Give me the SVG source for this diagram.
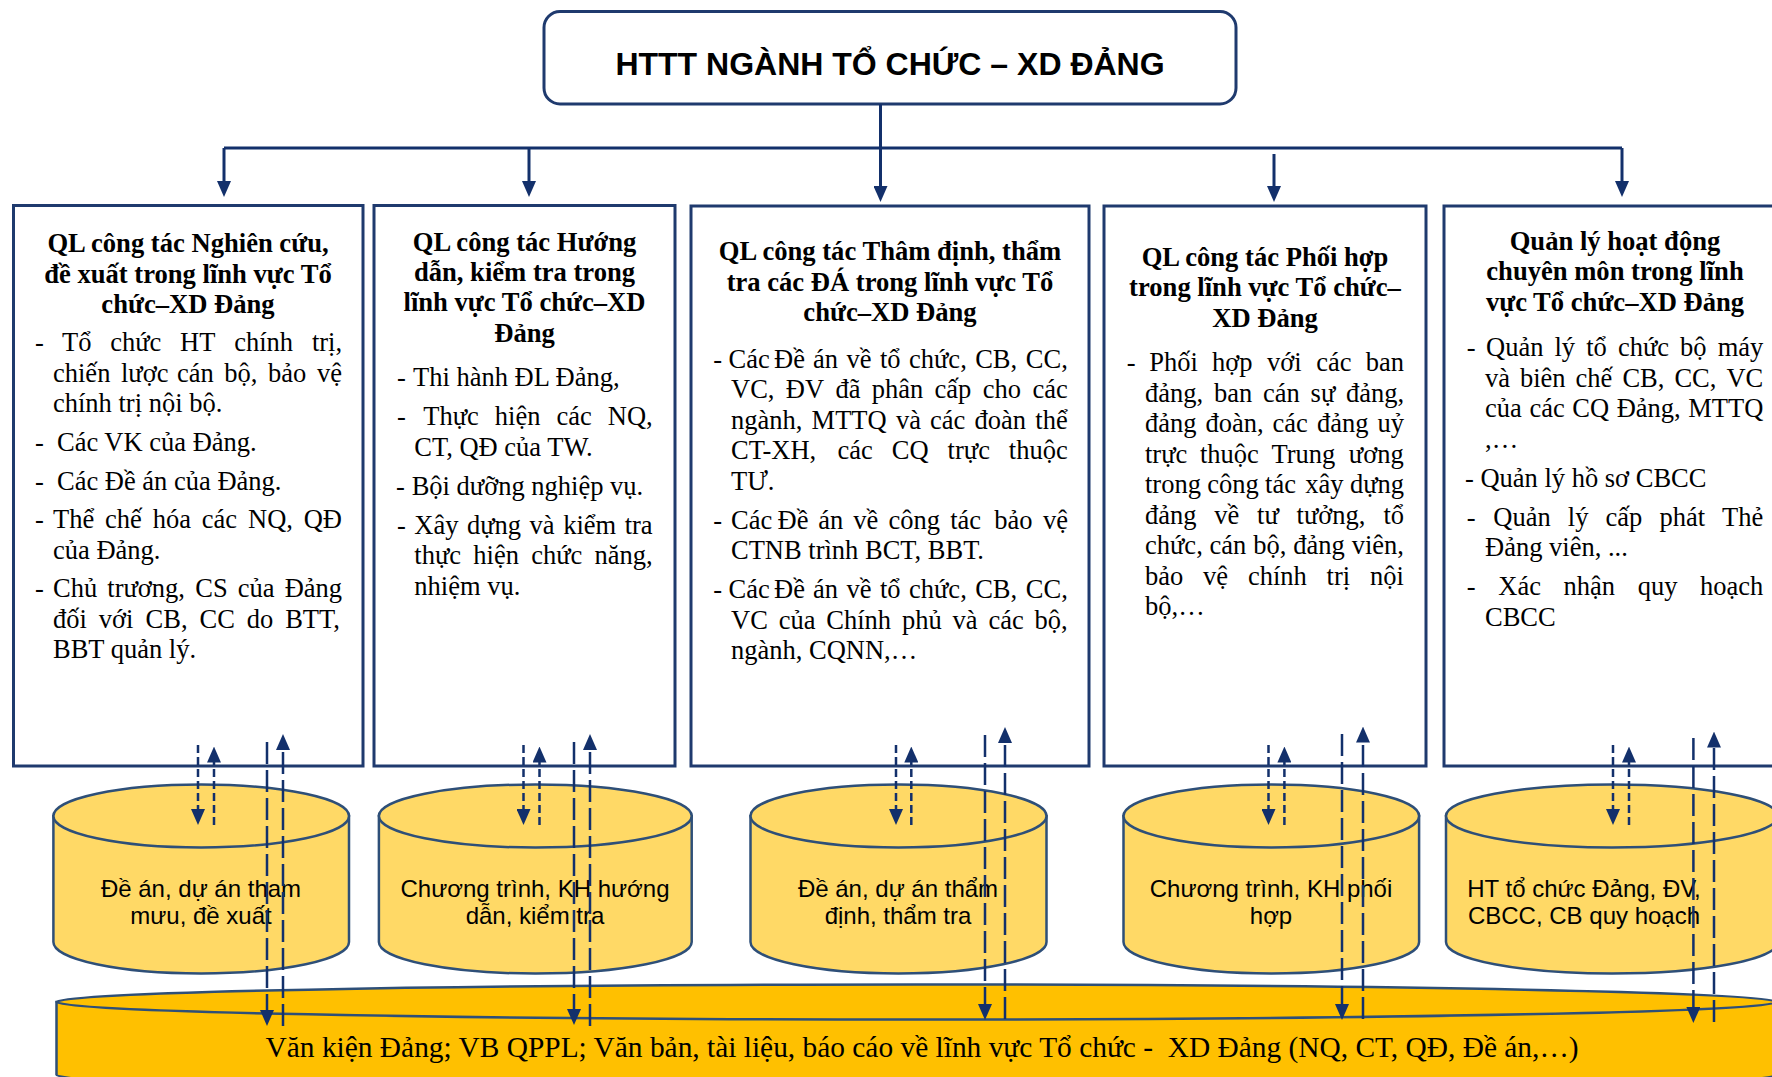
<svg xmlns="http://www.w3.org/2000/svg" width="1772" height="1077" viewBox="0 0 1772 1077">
<style>
  .box { fill:#ffffff; stroke:#1F3A6E; stroke-width:3; }
  .root { fill:#ffffff; stroke:#1F3A6E; stroke-width:3; }
  .ttl { font-family:"Liberation Sans",Arial,sans-serif; font-weight:bold; font-size:32px; text-anchor:middle; fill:#000; }
  .hd { font-family:"Liberation Serif","Times New Roman",serif; font-weight:bold; font-size:26.6px; text-anchor:middle; fill:#000; }
  .tx { font-family:"Liberation Serif","Times New Roman",serif; font-size:26.5px; fill:#000; }
  .db { fill:#FFD966; stroke:#2E4F78; stroke-width:2.5; }
  .store { fill:#FFC000; stroke:#2E4F78; stroke-width:2.5; }
  .dbt { font-family:"Liberation Sans",Arial,sans-serif; font-size:24px; text-anchor:middle; fill:#000; }
  .st { font-family:"Liberation Serif","Times New Roman",serif; font-size:29.3px; fill:#000; }
  .link { stroke:#13306B; stroke-width:3; fill:none; }
  .flow { stroke:#13306B; stroke-width:2.5; fill:none; }
  .sd { stroke-dasharray:8 4; }
  .ld { stroke-dasharray:22 6; }
</style>
<defs>
  <marker id="ah" markerUnits="userSpaceOnUse" markerWidth="16" markerHeight="14" viewBox="0 0 16 14" refX="10" refY="7" orient="auto">
    <path d="M0,0 L16,7 L0,14 Z" fill="#13306B"/>
  </marker>
</defs>

<!-- root node -->
<g id="root">
  <rect class="root" x="544" y="11.5" width="692" height="92.5" rx="16"/>
  <text class="ttl" x="890" y="75">HTTT NGÀNH TỔ CHỨC – XD ĐẢNG</text>
</g>

<!-- function boxes -->
<g id="n-research">
  <rect class="box" x="13.5" y="205.5" width="349.5" height="560.5"/>
  <text class="hd" x="188" y="252">QL công tác Nghiên cứu,</text>
  <text class="hd" x="188" y="282.5">đề xuất trong lĩnh vực Tổ</text>
  <text class="hd" x="188" y="313">chức–XD Đảng</text>
  <text class="tx" y="351"><tspan x="35">-</tspan><tspan x="62">Tổ</tspan><tspan x="110.2">chức</tspan><tspan x="180.1">HT</tspan><tspan x="234.2">chính</tspan><tspan x="311.9">trị,</tspan></text>
  <text class="tx" y="381.5"><tspan x="53">chiến</tspan><tspan x="121">lược</tspan><tspan x="176.9">cán</tspan><tspan x="224.3">bộ,</tspan><tspan x="268">bảo</tspan><tspan x="317">vệ</tspan></text>
  <text class="tx" x="53" y="412">chính trị nội bộ.</text>
  <text class="tx" y="451"><tspan x="35">-</tspan><tspan x="57">Các VK của Đảng.</tspan></text>
  <text class="tx" y="489.5"><tspan x="35">-</tspan><tspan x="57">Các Đề án của Đảng.</tspan></text>
  <text class="tx" y="528"><tspan x="35">-</tspan><tspan x="53">Thể</tspan><tspan x="105">chế</tspan><tspan x="152.7">hóa</tspan><tspan x="201.8">các</tspan><tspan x="248">NQ,</tspan><tspan x="303.7">QĐ</tspan></text>
  <text class="tx" x="53" y="558.5">của Đảng.</text>
  <text class="tx" y="597"><tspan x="35">-</tspan><tspan x="53">Chủ</tspan><tspan x="107.3">trương,</tspan><tspan x="195.3">CS</tspan><tspan x="237.8">của</tspan><tspan x="284.7">Đảng</tspan></text>
  <text class="tx" y="627.5"><tspan x="53">đối</tspan><tspan x="98.8">với</tspan><tspan x="145.6">CB,</tspan><tspan x="199.5">CC</tspan><tspan x="246.8">do</tspan><tspan x="285.2">BTT,</tspan></text>
  <text class="tx" x="53" y="658">BBT quản lý.</text>
</g>

<g id="n-guidance">
  <rect class="box" x="374" y="205.5" width="301" height="560.5"/>
  <text class="hd" x="524.5" y="251">QL công tác Hướng</text>
  <text class="hd" x="524.5" y="281">dẫn, kiểm tra trong</text>
  <text class="hd" x="524.5" y="311">lĩnh vực Tổ chức–XD</text>
  <text class="hd" x="524.5" y="341.5">Đảng</text>
  <text class="tx" y="386"><tspan x="397">-</tspan><tspan x="413">Thi hành ĐL Đảng,</tspan></text>
  <text class="tx" y="425"><tspan x="397">-</tspan><tspan x="423.3">Thực</tspan><tspan x="494.8">hiện</tspan><tspan x="556.5">các</tspan><tspan x="607.8">NQ,</tspan></text>
  <text class="tx" x="414.3" y="455.5">CT, QĐ của TW.</text>
  <text class="tx" y="494.5"><tspan x="396">-</tspan><tspan x="411.7">Bội dưỡng nghiệp vụ.</tspan></text>
  <text class="tx" y="533.5"><tspan x="397">-</tspan><tspan x="414.3">Xây</tspan><tspan x="467">dựng</tspan><tspan x="529.6">và</tspan><tspan x="563.2">kiểm</tspan><tspan x="624.7">tra</tspan></text>
  <text class="tx" y="564"><tspan x="414.3">thực</tspan><tspan x="473.3">hiện</tspan><tspan x="531.2">chức</tspan><tspan x="594.6">năng,</tspan></text>
  <text class="tx" x="414.3" y="594.5">nhiệm vụ.</text>
</g>

<g id="n-appraisal">
  <rect class="box" x="691" y="206" width="398" height="560"/>
  <text class="hd" x="890" y="260">QL công tác Thâm định, thẩm</text>
  <text class="hd" x="890" y="290.5">tra các ĐÁ trong lĩnh vực Tổ</text>
  <text class="hd" x="890" y="321">chức–XD Đảng</text>
  <text class="tx" y="367.5"><tspan x="713.3">-</tspan><tspan x="728.5">Các</tspan><tspan x="774">Đề</tspan><tspan x="813">án</tspan><tspan x="846.5">về</tspan><tspan x="880">tổ</tspan><tspan x="909">chức,</tspan><tspan x="975.2">CB,</tspan><tspan x="1025.8">CC,</tspan></text>
  <text class="tx" y="398"><tspan x="731">VC,</tspan><tspan x="785.8">ĐV</tspan><tspan x="835.4">đã</tspan><tspan x="871.8">phân</tspan><tspan x="934.6">cấp</tspan><tspan x="982.8">cho</tspan><tspan x="1032.4">các</tspan></text>
  <text class="tx" y="428.5"><tspan x="731">ngành,</tspan><tspan x="811.6">MTTQ</tspan><tspan x="895.9">và</tspan><tspan x="930.1">các</tspan><tspan x="974.6">đoàn</tspan><tspan x="1035.3">thể</tspan></text>
  <text class="tx" y="459"><tspan x="731">CT-XH,</tspan><tspan x="837.6">các</tspan><tspan x="891.8">CQ</tspan><tspan x="947.6">trực</tspan><tspan x="1008.8">thuộc</tspan></text>
  <text class="tx" x="731" y="489.5">TƯ.</text>
  <text class="tx" y="528.5"><tspan x="713.3">-</tspan><tspan x="731">Các</tspan><tspan x="777.5">Đề</tspan><tspan x="818.2">án</tspan><tspan x="853.3">về</tspan><tspan x="888.4">công</tspan><tspan x="950.2">tác</tspan><tspan x="994.3">bảo</tspan><tspan x="1042.9">vệ</tspan></text>
  <text class="tx" x="731" y="559">CTNB trình BCT, BBT.</text>
  <text class="tx" y="598"><tspan x="713.3">-</tspan><tspan x="728.5">Các</tspan><tspan x="774">Đề</tspan><tspan x="813">án</tspan><tspan x="846.5">về</tspan><tspan x="880">tổ</tspan><tspan x="909">chức,</tspan><tspan x="975.2">CB,</tspan><tspan x="1025.8">CC,</tspan></text>
  <text class="tx" y="628.5"><tspan x="731">VC</tspan><tspan x="778.7">của</tspan><tspan x="826.3">Chính</tspan><tspan x="902">phủ</tspan><tspan x="952.6">và</tspan><tspan x="988.5">các</tspan><tspan x="1034.6">bộ,</tspan></text>
  <text class="tx" x="731" y="659">ngành, CQNN,…</text>
</g>

<g id="n-coordination">
  <rect class="box" x="1104" y="206" width="322" height="560"/>
  <text class="hd" x="1265" y="265.5">QL công tác Phối hợp</text>
  <text class="hd" x="1265" y="296">trong lĩnh vực Tổ chức–</text>
  <text class="hd" x="1265" y="326.5">XD Đảng</text>
  <text class="tx" y="371"><tspan x="1126.7">-</tspan><tspan x="1149.3">Phối</tspan><tspan x="1212.1">hợp</tspan><tspan x="1267.1">với</tspan><tspan x="1316.2">các</tspan><tspan x="1365.7">ban</tspan></text>
  <text class="tx" y="401.5"><tspan x="1145">đảng,</tspan><tspan x="1213.9">ban</tspan><tspan x="1263">cán</tspan><tspan x="1310.6">sự</tspan><tspan x="1346">đảng,</tspan></text>
  <text class="tx" y="432"><tspan x="1145">đảng</tspan><tspan x="1205.5">đoàn,</tspan><tspan x="1272.6">các</tspan><tspan x="1316.9">đảng</tspan><tspan x="1377.5">uỷ</tspan></text>
  <text class="tx" y="462.5"><tspan x="1145">trực</tspan><tspan x="1199.9">thuộc</tspan><tspan x="1271.4">Trung</tspan><tspan x="1348.8">ương</tspan></text>
  <text class="tx" y="493"><tspan x="1145">trong</tspan><tspan x="1207.3">công</tspan><tspan x="1265.1">tác</tspan><tspan x="1305.3">xây</tspan><tspan x="1349.9">dựng</tspan></text>
  <text class="tx" y="523.5"><tspan x="1145">đảng</tspan><tspan x="1214.3">về</tspan><tspan x="1257.1">tư</tspan><tspan x="1296.6">tưởng,</tspan><tspan x="1383.5">tổ</tspan></text>
  <text class="tx" y="554"><tspan x="1145">chức,</tspan><tspan x="1209.6">cán</tspan><tspan x="1253.3">bộ,</tspan><tspan x="1293.3">đảng</tspan><tspan x="1351.7">viên,</tspan></text>
  <text class="tx" y="584.5"><tspan x="1145">bảo</tspan><tspan x="1203.1">vệ</tspan><tspan x="1247.9">chính</tspan><tspan x="1326.6">trị</tspan><tspan x="1370">nội</tspan></text>
  <text class="tx" x="1145" y="615">bộ,…</text>
</g>

<g id="n-operations">
  <rect class="box" x="1444" y="206" width="345" height="560"/>
  <text class="hd" x="1615" y="249.5">Quản lý hoạt động</text>
  <text class="hd" x="1615" y="280">chuyên môn trong lĩnh</text>
  <text class="hd" x="1615" y="310.5">vực Tổ chức–XD Đảng</text>
  <text class="tx" y="356"><tspan x="1466.7">-</tspan><tspan x="1486">Quản</tspan><tspan x="1554.5">lý</tspan><tspan x="1586.2">tổ</tspan><tspan x="1617.9">chức</tspan><tspan x="1680.1">bộ</tspan><tspan x="1717.7">máy</tspan></text>
  <text class="tx" y="386.5"><tspan x="1485">và</tspan><tspan x="1520">biên</tspan><tspan x="1575.6">chế</tspan><tspan x="1622.4">CB,</tspan><tspan x="1674.4">CC,</tspan><tspan x="1726.4">VC</tspan></text>
  <text class="tx" y="417"><tspan x="1485">của</tspan><tspan x="1529.4">các</tspan><tspan x="1572.3">CQ</tspan><tspan x="1616.7">Đảng,</tspan><tspan x="1688.3">MTTQ</tspan></text>
  <text class="tx" x="1485" y="447.5">,…</text>
  <text class="tx" y="486.5"><tspan x="1465">-</tspan><tspan x="1480.4">Quản lý hồ sơ CBCC</tspan></text>
  <text class="tx" y="525.5"><tspan x="1466.7">-</tspan><tspan x="1493.3">Quản</tspan><tspan x="1567.8">lý</tspan><tspan x="1605.5">cấp</tspan><tspan x="1659.4">phát</tspan><tspan x="1722.1">Thẻ</tspan></text>
  <text class="tx" x="1485" y="556">Đảng viên, ...</text>
  <text class="tx" y="595"><tspan x="1466.7">-</tspan><tspan x="1498.3">Xác</tspan><tspan x="1563.6">nhận</tspan><tspan x="1637.7">quy</tspan><tspan x="1700.1">hoạch</tspan></text>
  <text class="tx" x="1485" y="625.5">CBCC</text>
</g>

<!-- data stores -->
<g id="db-research">
  <path class="db" d="M53.4,816 L53.4,942 A147.8,31.5 0 0 0 349,942 L349,816 Z"/>
  <ellipse class="db" cx="201.2" cy="816" rx="147.8" ry="31.5"/>
  <text class="dbt" x="201" y="897">Đề án, dự án tham</text>
  <text class="dbt" x="201" y="924">mưu, đề xuất</text>
</g>
<g id="db-guidance">
  <path class="db" d="M378.9,816 L378.9,942 A156.4,31.5 0 0 0 691.7,942 L691.7,816 Z"/>
  <ellipse class="db" cx="535.3" cy="816" rx="156.4" ry="31.5"/>
  <text class="dbt" x="535" y="897">Chương trình, KH hướng</text>
  <text class="dbt" x="535" y="924">dẫn, kiểm tra</text>
</g>
<g id="db-appraisal">
  <path class="db" d="M750.5,816 L750.5,942 A148,31.5 0 0 0 1046.5,942 L1046.5,816 Z"/>
  <ellipse class="db" cx="898.5" cy="816" rx="148" ry="31.5"/>
  <text class="dbt" x="898" y="897">Đề án, dự án thẩm</text>
  <text class="dbt" x="898" y="924">định, thẩm tra</text>
</g>
<g id="db-coordination">
  <path class="db" d="M1123.5,816 L1123.5,942 A147.8,31.5 0 0 0 1419.1,942 L1419.1,816 Z"/>
  <ellipse class="db" cx="1271.3" cy="816" rx="147.8" ry="31.5"/>
  <text class="dbt" x="1271" y="897">Chương trình, KH phối</text>
  <text class="dbt" x="1271" y="924">hợp</text>
</g>
<g id="db-operations">
  <path class="db" d="M1446,816 L1446,942 A166,31.5 0 0 0 1778,942 L1778,816 Z"/>
  <ellipse class="db" cx="1612" cy="816" rx="166" ry="31.5"/>
  <text class="dbt" x="1584" y="897">HT tổ chức Đảng, ĐV,</text>
  <text class="dbt" x="1584" y="924">CBCC, CB quy hoạch</text>
</g>

<!-- shared document store -->
<g id="db-documents">
  <path class="store" d="M56.5,1002 L56.5,1075 A860,17.5 0 0 0 1776.5,1075 L1776.5,1002 Z"/>
  <ellipse class="store" cx="916.5" cy="1002" rx="860" ry="17.5"/>
  <text class="st" x="265.6" y="1057" textLength="1313" lengthAdjust="spacingAndGlyphs">Văn kiện Đảng; VB QPPL; Văn bản, tài liệu, báo cáo về lĩnh vực Tổ chức -&#160; XD Đảng (NQ, CT, QĐ, Đề án,…)</text>
</g>

<!-- connectors -->
<g id="connectors">
  <line class="link" x1="880.5" y1="104" x2="880.5" y2="196" marker-end="url(#ah)"/>
  <path class="link" d="M224,148 H1622"/>
  <line class="link" x1="224" y1="148" x2="224" y2="191" marker-end="url(#ah)"/>
  <line class="link" x1="529" y1="148" x2="529" y2="191" marker-end="url(#ah)"/>
  <line class="link" x1="1274" y1="154" x2="1274" y2="196" marker-end="url(#ah)"/>
  <line class="link" x1="1622" y1="148" x2="1622" y2="191" marker-end="url(#ah)"/>

  <line class="flow sd" x1="198" y1="745" x2="198" y2="819" marker-end="url(#ah)"/>
  <line class="flow sd" x1="214" y1="825" x2="214" y2="752.5" marker-end="url(#ah)"/>
  <line class="flow ld" x1="267" y1="742" x2="267" y2="1020" marker-end="url(#ah)"/>
  <line class="flow ld" x1="283" y1="1026" x2="283" y2="740" marker-end="url(#ah)"/>

  <line class="flow sd" x1="523.5" y1="745" x2="523.5" y2="819" marker-end="url(#ah)"/>
  <line class="flow sd" x1="539.5" y1="825" x2="539.5" y2="752.5" marker-end="url(#ah)"/>
  <line class="flow ld" x1="574" y1="742" x2="574" y2="1019" marker-end="url(#ah)"/>
  <line class="flow ld" x1="590" y1="1026" x2="590" y2="740" marker-end="url(#ah)"/>

  <line class="flow sd" x1="896" y1="745" x2="896" y2="819" marker-end="url(#ah)"/>
  <line class="flow sd" x1="911.3" y1="825" x2="911.3" y2="752.5" marker-end="url(#ah)"/>
  <line class="flow ld" x1="985" y1="735" x2="985" y2="1014" marker-end="url(#ah)"/>
  <line class="flow ld" x1="1005" y1="1019" x2="1005" y2="733" marker-end="url(#ah)"/>

  <line class="flow sd" x1="1268.5" y1="745" x2="1268.5" y2="819" marker-end="url(#ah)"/>
  <line class="flow sd" x1="1284.4" y1="825" x2="1284.4" y2="752.5" marker-end="url(#ah)"/>
  <line class="flow ld" x1="1342" y1="734" x2="1342" y2="1014" marker-end="url(#ah)"/>
  <line class="flow ld" x1="1363" y1="1019" x2="1363" y2="732.5" marker-end="url(#ah)"/>

  <line class="flow sd" x1="1613" y1="745" x2="1613" y2="819" marker-end="url(#ah)"/>
  <line class="flow sd" x1="1629" y1="825" x2="1629" y2="752.5" marker-end="url(#ah)"/>
  <line class="flow ld" x1="1693.4" y1="738" x2="1693.4" y2="1017" marker-end="url(#ah)"/>
  <line class="flow ld" x1="1714" y1="1022" x2="1714" y2="737.5" marker-end="url(#ah)"/>
</g>
</svg>
